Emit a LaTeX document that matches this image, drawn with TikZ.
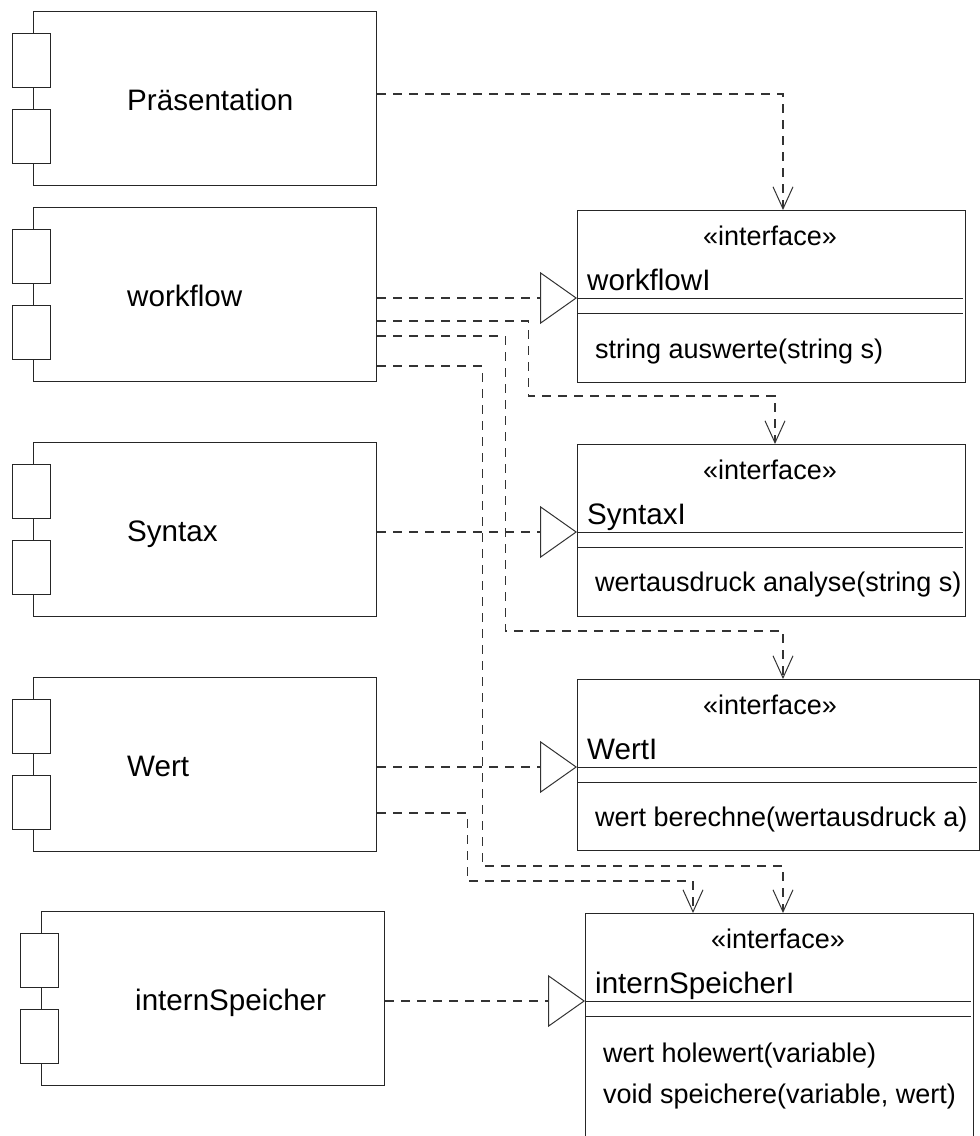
\documentclass[tikz,border=0pt]{standalone}
\usepackage{fontspec}
\setmainfont{Liberation Sans}
\usetikzlibrary{arrows.meta}

\tikzset{
  box/.style={draw=black!85, line width=1.1pt, rectangle, inner sep=0pt, anchor=north west},
  comp/.style={box, minimum width=343pt, minimum height=174pt},
  port/.style={box, fill=white, minimum width=38pt, minimum height=54pt},
  bigtext/.style={inner sep=0pt, font=\fontsize{29.6}{34}\selectfont},
  smalltext/.style={inner sep=0pt, font=\fontsize{27}{32}\selectfont},
  compname/.style={bigtext, anchor=base west},
  stereo/.style={smalltext, anchor=base},
  ifname/.style={bigtext, anchor=base west},
  member/.style={smalltext, anchor=base west},
  sepline/.style={draw=black!85, line width=1pt},
  dep/.style={draw=black!80, line width=1.1pt, dash pattern=on 9pt off 7pt},
  uses/.style={dep, -{Straight Barb[length=22pt,width=20pt,line width=1pt]}},
  realizes/.style={dep, -{Triangle[open,length=37pt,width=52pt,line width=1pt]}},
}

% component: name, x, y (top left), label
\newcommand\umlcomp[4]{%
  \node[comp] (#1) at (#2,#3) {};
  \node[port] (#1p1) at ([xshift=-21pt,yshift=-22pt]#1.north west) {};
  \node[port] (#1p2) at ([xshift=-21pt,yshift=-98pt]#1.north west) {};
  \node[compname] (#1t) at ([xshift=94pt,yshift=-99pt]#1.north west) {#4};
}

% interface class: name, x, y (top left), width, height, class name
\newcommand\umliface[6]{%
  \node[box, minimum width=#4, minimum height=#5] (#1) at (#2,#3) {};
  \node[stereo] (#1s) at ([xshift=193pt,yshift=-35pt]#1.north west) {«interface»};
  \node[ifname] (#1n) at ([xshift=10pt,yshift=-80pt]#1.north west) {#6};
  \coordinate (#1in) at ([yshift=-88pt]#1.north west);
  \draw[sepline] (#1in) -- ([xshift=-3pt,yshift=-88pt]#1.north east);
  \draw[sepline] ([yshift=-103pt]#1.north west) -- ([xshift=-3pt,yshift=-103pt]#1.north east);
}

\begin{document}
\begin{tikzpicture}[x=1pt,y=-1pt]
  \clip (0,0) rectangle (980,1136);
  \fill[white] (0,0) rectangle (980,1136);

  % components
  \umlcomp{pres}{33}{11}{Präsentation}
  \umlcomp{wf}{33}{207}{workflow}
  \umlcomp{syn}{33}{442}{Syntax}
  \umlcomp{wert}{33}{677}{Wert}
  \umlcomp{isp}{41}{911}{internSpeicher}

  % interfaces
  \umliface{wfi}{577}{210}{388pt}{172pt}{workflowI}
  \node[member] (wfim1) at ([xshift=18pt,yshift=-148pt]wfi.north west) {string auswerte(string s)};

  \umliface{syi}{577}{444}{388pt}{172pt}{SyntaxI}
  \node[member] (syim1) at ([xshift=18pt,yshift=-147pt]syi.north west) {wertausdruck analyse(string s)};

  \umliface{wei}{577}{679}{402pt}{171pt}{WertI}
  \node[member] (weim1) at ([xshift=18pt,yshift=-147pt]wei.north west) {wert berechne(wertausdruck a)};

  \umliface{isi}{585}{913}{388pt}{260pt}{internSpeicherI}
  \node[member] (isim1) at ([xshift=18pt,yshift=-149pt]isi.north west) {wert holewert(variable)};
  \node[member] (isim2) at ([xshift=18pt,yshift=-190pt]isi.north west) {void speichere(variable, wert)};

  % usage dependencies
  \draw[uses] (pres.east |- 0,94) -| ([xshift=206pt]wfi.north west);
  \draw[uses] (wf.east |- 0,321) -- ++(151,0) |- ([xshift=198pt,yshift=48pt]syi.north west) -- ([xshift=198pt]syi.north west);
  \draw[uses] (wf.east |- 0,336) -- ++(128,0) |- ([xshift=206pt,yshift=48pt]wei.north west) -- ([xshift=206pt]wei.north west);
  \draw[uses] (wf.east |- 0,366) -- ++(105,0) |- ([xshift=198pt,yshift=47pt]isi.north west) -- ([xshift=198pt]isi.north west);
  \draw[uses] (wert.east |- 0,813) -- ++(90,0) |- ([xshift=108pt,yshift=32pt]isi.north west) -- ([xshift=108pt]isi.north west);

  % realizations
  \draw[realizes] (wf.east |- wfiin) -- (wfiin);
  \draw[realizes] (syn.east |- syiin) -- (syiin);
  \draw[realizes] (wert.east |- weiin) -- (weiin);
  \draw[realizes] (isp.east |- isiin) -- (isiin);
\end{tikzpicture}
\end{document}
